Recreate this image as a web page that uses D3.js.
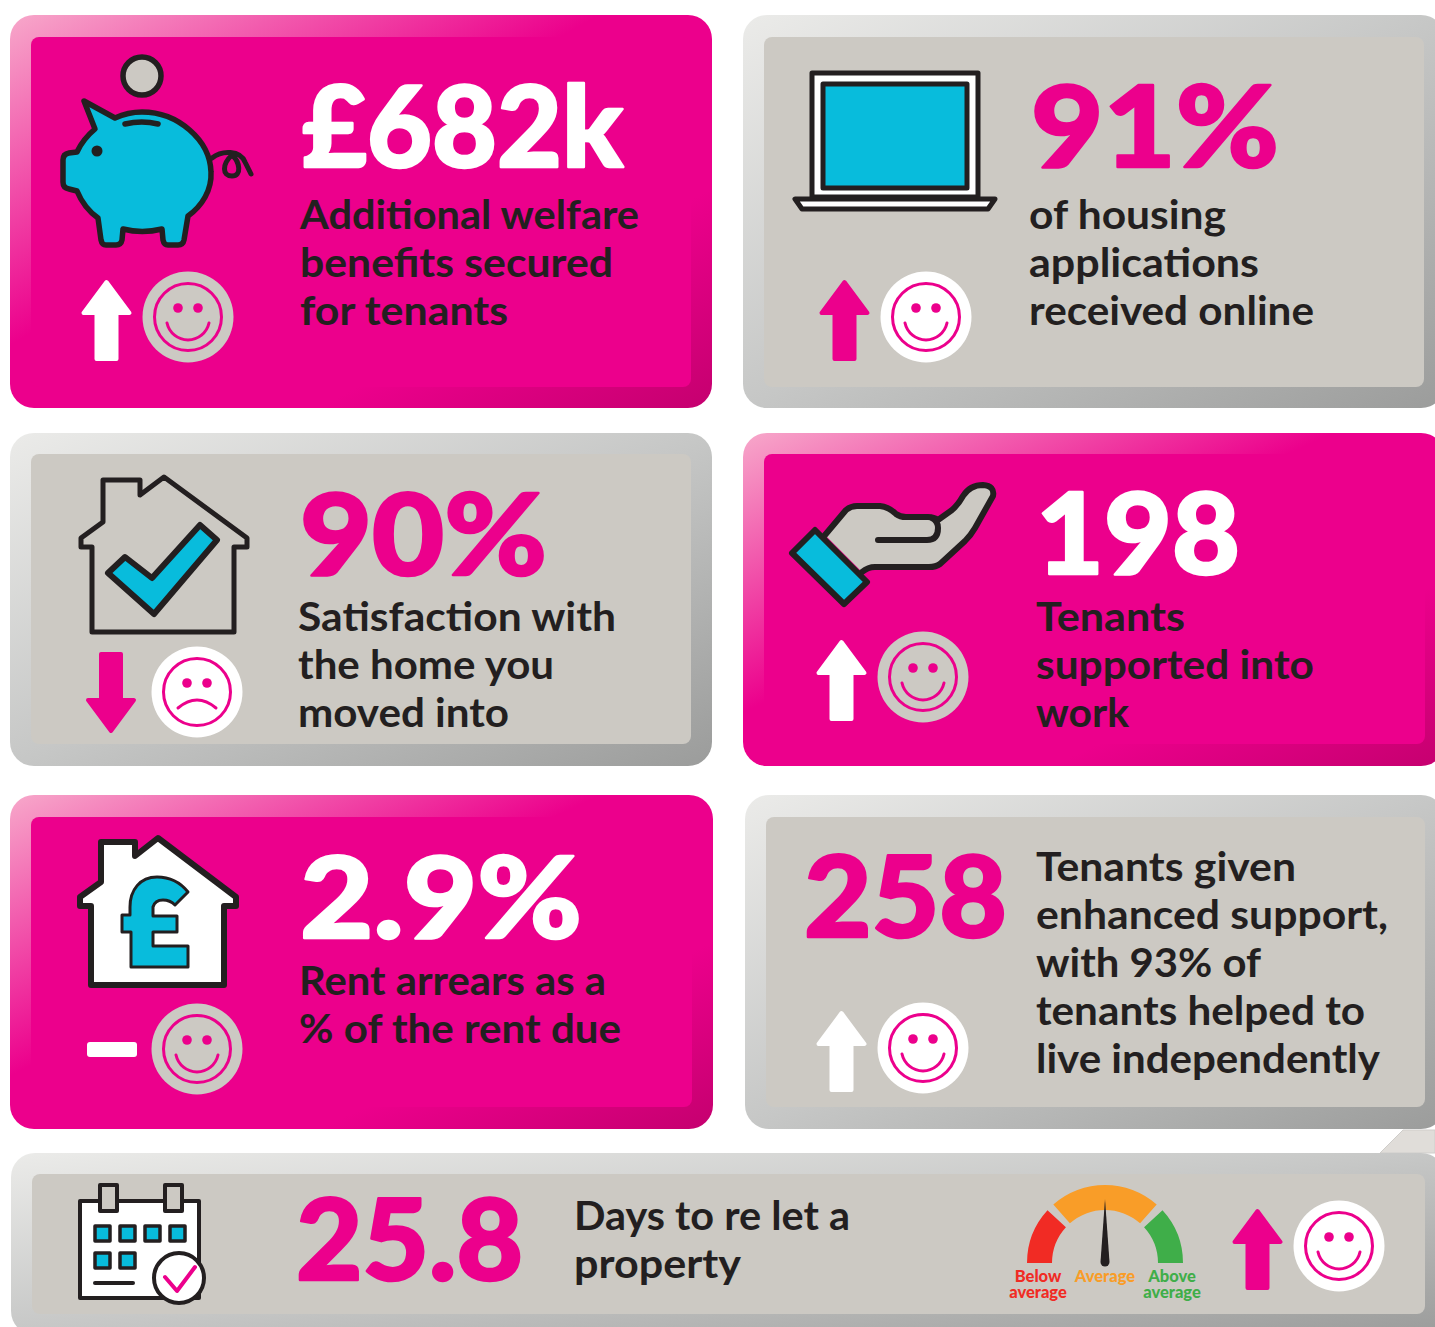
<!DOCTYPE html>
<html>
<head>
<meta charset="utf-8">
<script src="https://cdn.jsdelivr.net/npm/d3@7"></script>
<style>
  html, body { margin: 0; padding: 0; background: #fff; }
  svg { display: block; }
  text { font-family: Lato, "Noto Sans", sans-serif; }
</style>
</head>
<body>
<svg id="svg" width="1435" height="1327"></svg>
<script>
// figures and wording
const kpiValues = ["£682k", "91%", "90%", "198", "2.9%", "258", "25.8"];
const kpiCaptions = [
  ["Additional welfare", "benefits secured", "for tenants"],
  ["of housing", "applications", "received online"],
  ["Satisfaction with", "the home you", "moved into"],
  ["Tenants", "supported into", "work"],
  ["Rent arrears as a", "% of the rent due"],
  ["Tenants given", "enhanced support,", "with 93% of", "tenants helped to", "live independently"],
  ["Days to re let a", "property"]
];
const kpiThemes = ["pink", "grey", "grey", "pink", "pink", "grey", "grey"];
const kpiTrends = ["up", "up", "down", "up", "flat", "up", "up"];

const gaugeLabels = [["Below", "average"], ["Average"], ["Above", "average"]];
const gaugeFrom = [-90, -41.5, 47.5];
const gaugeTo = [-47.5, 41.5, 90];
const gaugeReading = 0;

const PINK = "#ec008c", STONE = "#ccc9c3", BLUE = "#08bcdc", INK = "#231f20";
const gaugeColors = ["#f12b24", "#f99d28", "#3fae49"];

// where each card sits: outer box, inner box, text anchors, trend icons
// vw = drawn width of the big figure, cw = drawn widths of the caption lines
const layout = [
  { o: [10, 15, 702, 393], i: [31, 37, 660, 350], vx: 302, vy: 167, vw: 321, cx: 300, cy: 229, cw: [339, 313, 208], ax: 106.5, ay: 280, fx: 188, fy: 317 },
  { o: [743, 15, 702, 393], i: [764, 37, 660, 350], vx: 1031, vy: 167, vw: 248, cx: 1029, cy: 229, cw: [197, 230, 285], ax: 844.5, ay: 280, fx: 926, fy: 317 },
  { o: [10, 433, 702, 333], i: [31, 454, 660, 290], vx: 300, vy: 575, vw: 247, cx: 298, cy: 631, cw: [318, 256, 211], ax: 111, ay: 651, fx: 197, fy: 692 },
  { o: [743, 433, 702, 333], i: [764, 454, 661, 290], vx: 1036, vy: 574, vw: 204, cx: 1036, cy: 631, cw: [149, 278, 93], ax: 841.5, ay: 640, fx: 923, fy: 677 },
  { o: [10, 795, 703, 334], i: [31, 817, 661, 290], vx: 300, vy: 938, vw: 282, cx: 299, cy: 995, cw: [307, 322], ax: 112, ay: 1049.5, fx: 197, fy: 1049 },
  { o: [745, 795, 700, 334], i: [766, 817, 659, 290], vx: 804, vy: 937, vw: 203, cx: 1036, cy: 881, cw: [260, 352, 225, 329, 344], ax: 841.5, ay: 1011, fx: 923, fy: 1048 },
  { o: [11, 1153, 1434, 182], i: [32, 1174, 1393, 140], vx: 296, vy: 1280, vw: 227, cx: 574, cy: 1230, cw: [276, 167], ax: 1257.5, ay: 1209, fx: 1339, fy: 1246 }
];

const svg = d3.select("#svg");
const defs = svg.append("defs");

function bevel(id, stops) {
  const g = defs.append("linearGradient").attr("id", id)
    .attr("x1", 0).attr("y1", 0).attr("x2", 1).attr("y2", 1);
  stops.forEach(s => g.append("stop").attr("offset", s[0]).attr("stop-color", s[1]));
}
bevel("bevel-pink", [[0, "#f7a8ca"], [0.42, PINK], [0.72, PINK], [1, "#c5006f"]]);
bevel("bevel-grey", [[0, "#ebebe9"], [0.5, "#c6c7c6"], [1, "#9b9c9b"]]);

// the corner of a sheet showing behind the bottom card
svg.append("path").attr("d", "M1380,1153 L1403,1130 L1435,1130 L1435,1153 Z")
  .attr("fill", "#e0ddd9").attr("stroke", "#cfcdca").attr("stroke-width", 1);

const stroked = (g, d, fill, width) => g.append("path").attr("d", d)
  .attr("fill", fill).attr("stroke", INK).attr("stroke-width", width)
  .attr("stroke-linejoin", "round").attr("stroke-linecap", "round");

function trendArrow(g, x, y, dir, color) {
  const a = g.append("g").attr("transform", dir === "down"
    ? `translate(${x},${y + 82}) scale(1,-1)` : `translate(${x},${y})`);
  a.append("path").attr("d", "M0,2 L23,33 L10,33 L10,79 L-10,79 L-10,33 L-23,33 Z")
    .attr("fill", color).attr("stroke", color).attr("stroke-width", 4).attr("stroke-linejoin", "round");
}

function face(g, x, y, bg, happy) {
  const f = g.append("g").attr("transform", `translate(${x},${y})`);
  f.append("circle").attr("r", 45.5).attr("fill", bg);
  f.append("circle").attr("r", 33.5).attr("fill", "none").attr("stroke", PINK).attr("stroke-width", 3);
  [-10, 10].forEach(dx => f.append("circle").attr("cx", dx).attr("cy", -9).attr("r", 4.8).attr("fill", PINK));
  f.append("path").attr("d", happy ? "M-21,6 A21.5,21.5 0 0 0 21,6" : "M-19,16 Q0,0 19,16")
    .attr("fill", "none").attr("stroke", PINK).attr("stroke-width", 3).attr("stroke-linecap", "round");
}

kpiValues.forEach((value, k) => {
  const box = layout[k], pink = kpiThemes[k] === "pink";
  const g = svg.append("g").attr("class", "card");
  g.append("rect").attr("x", box.o[0]).attr("y", box.o[1]).attr("width", box.o[2]).attr("height", box.o[3])
    .attr("rx", 24).attr("fill", `url(#bevel-${kpiThemes[k]})`);
  g.append("rect").attr("x", box.i[0]).attr("y", box.i[1]).attr("width", box.i[2]).attr("height", box.i[3])
    .attr("rx", 8).attr("fill", pink ? PINK : STONE);

  g.append("text").attr("x", box.vx).attr("y", box.vy)
    .attr("font-size", 113).attr("font-weight", 900)
    .attr("textLength", box.vw).attr("lengthAdjust", "spacingAndGlyphs")
    .attr("stroke", pink ? "#fff" : PINK).attr("stroke-width", 2.5).attr("stroke-linejoin", "round")
    .attr("fill", pink ? "#fff" : PINK).text(value);

  g.selectAll("text.caption").data(kpiCaptions[k]).enter().append("text")
    .attr("class", "caption").attr("x", box.cx).attr("y", (d, i) => box.cy + i * 48)
    .attr("textLength", (d, i) => box.cw[i]).attr("lengthAdjust", "spacingAndGlyphs")
    .attr("font-size", 41).attr("font-weight", 700).attr("fill", INK).text(d => d);

  const lightArrow = k !== 1 && k !== 2 && k !== 6;
  if (kpiTrends[k] === "flat") {
    g.append("rect").attr("x", box.ax - 25).attr("y", box.ay - 7.5).attr("width", 50).attr("height", 15)
      .attr("rx", 3).attr("fill", "#fff");
  } else {
    trendArrow(g, box.ax, box.ay, kpiTrends[k], lightArrow ? "#fff" : PINK);
  }
  face(g, box.fx, box.fy, pink ? STONE : "#fff", kpiTrends[k] !== "down");
});

// icons
const icons = svg.append("g").attr("class", "icons");

// piggy bank
icons.append("circle").attr("cx", 142).attr("cy", 76).attr("r", 19)
  .attr("fill", STONE).attr("stroke", INK).attr("stroke-width", 5.5);
stroked(icons, "M84,101 L115,118 Q128,112 142,112 C178,112 210,140 211,172 C212,190 202,206 188,216 L184,240 Q183,245 178,245 L168,245 Q164,245 163,240 L162,229 Q142,234 123,229 L122,240 Q121,245 116,245 L106,245 Q102,245 101,240 L98,218 Q84,208 77,191 L69,189 Q63,188 63,182 L63,160 Q63,154 69,153 L77,152 Q83,139 95,129 Z", BLUE, 5.5);
stroked(icons, "M125,124 Q142,120 158,124", "none", 5.5);
icons.append("circle").attr("cx", 97).attr("cy", 151).attr("r", 5.5).attr("fill", INK);
stroked(icons, "M212,158 C222,150 240,150 245,162 L251,174 M232,155 C222,164 222,176 232,176 C242,176 240,162 232,155", "none", 5);

// laptop
stroked(icons, "M812,73 H978 V197 H812 Z", "#fff", 5);
stroked(icons, "M823,84 H967 V188 H823 Z", BLUE, 5);
stroked(icons, "M795,199 H995 L988,209 H802 Z", "#fff", 5);

// house with tick
stroked(icons, "M103,480 H140 V495 L164,477 L247,538 V547 H234 V632 H92 V547 H81 V538 L103,522 Z", "none", 5);
stroked(icons, "M108,573 L125,557 L152,578 L200,525 L217,540 L154,614 Z", BLUE, 6);

// hand
stroked(icons, "M825,535 L846,510 Q851,506 857,506 L880,506 Q889,507 896,514 Q900,517 906,517 L928,517 Q934,517 938,520 L952,510 Q958,505 963,496 Q970,485 983,485 Q995,486 993,496 L975,528 Q971,535 965,541 L940,564 Q936,567 929,567 L875,567 Q868,567 862,572", STONE, 6);
stroked(icons, "M878,540 L927,540 Q938,540 938,528 Q938,521 932,518", "none", 6);
stroked(icons, "M815,530 L867,582 L844,604 L792,553 Z", BLUE, 6);

// house with pound
stroked(icons, "M101,842 H135 V856 L158,838 L236,897 V906 H224 V985 H91 V906 H80 V897 L101,882 Z", "#fff", 6);
stroked(icons, "M188,892 C180,882 170,877 157,877 C140,877 130,890 130,907 V915 H122 V932 H131 V967 H188 V946 H153 V932 H177 V916 H153 V907 Q155,900 163,900 Q170,900 175,905 Z", BLUE, 3);

// calendar
stroked(icons, "M80,1201 H199 V1298 H80 Z", "#fff", 4);
[100, 165].forEach(x => stroked(icons, `M${x},1185 H${x + 17} V1211 H${x} Z`, STONE, 4));
[[95, 1226], [120, 1226], [145, 1226], [170, 1226], [95, 1253], [120, 1253]].forEach(p =>
  stroked(icons, `M${p[0]},${p[1]} h15 v15 h-15 Z`, BLUE, 3.5));
stroked(icons, "M95,1283 H133", "none", 4);
icons.append("circle").attr("cx", 179).attr("cy", 1278).attr("r", 25).attr("fill", "#fff").attr("stroke", INK).attr("stroke-width", 4);
icons.append("path").attr("d", "M165,1277 L177,1291 L195,1267").attr("fill", "none")
  .attr("stroke", PINK).attr("stroke-width", 4).attr("stroke-linecap", "round").attr("stroke-linejoin", "round");

// gauge
const gauge = svg.append("g").attr("class", "gauge").attr("transform", "translate(1105,1263)");
const rad = d3.scaleLinear().domain([-90, 90]).range([-Math.PI / 2, Math.PI / 2]);
const arc = d3.arc().innerRadius(53).outerRadius(78);
gauge.selectAll("path.band").data(gaugeLabels).enter().append("path").attr("class", "band")
  .attr("d", (d, i) => arc({ startAngle: rad(gaugeFrom[i]), endAngle: rad(gaugeTo[i]) }))
  .attr("fill", (d, i) => gaugeColors[i]);
gauge.append("path").attr("d", "M0,-64 L4.5,-1 A4.5,4.5 0 0 1 -4.5,-1 Z")
  .attr("fill", INK).attr("transform", `rotate(${gaugeReading})`);

const gaugeLabelX = [-67, 0, 67];
gaugeLabels.forEach((lines, i) => {
  const label = gauge.append("text").attr("text-anchor", "middle")
    .attr("font-size", 16.5).attr("font-weight", 900).attr("fill", gaugeColors[i]);
  lines.forEach((t, j) => label.append("tspan")
    .attr("x", gaugeLabelX[i]).attr("y", 19 + j * 15.5).text(t));
});
</script>
</body>
</html>
